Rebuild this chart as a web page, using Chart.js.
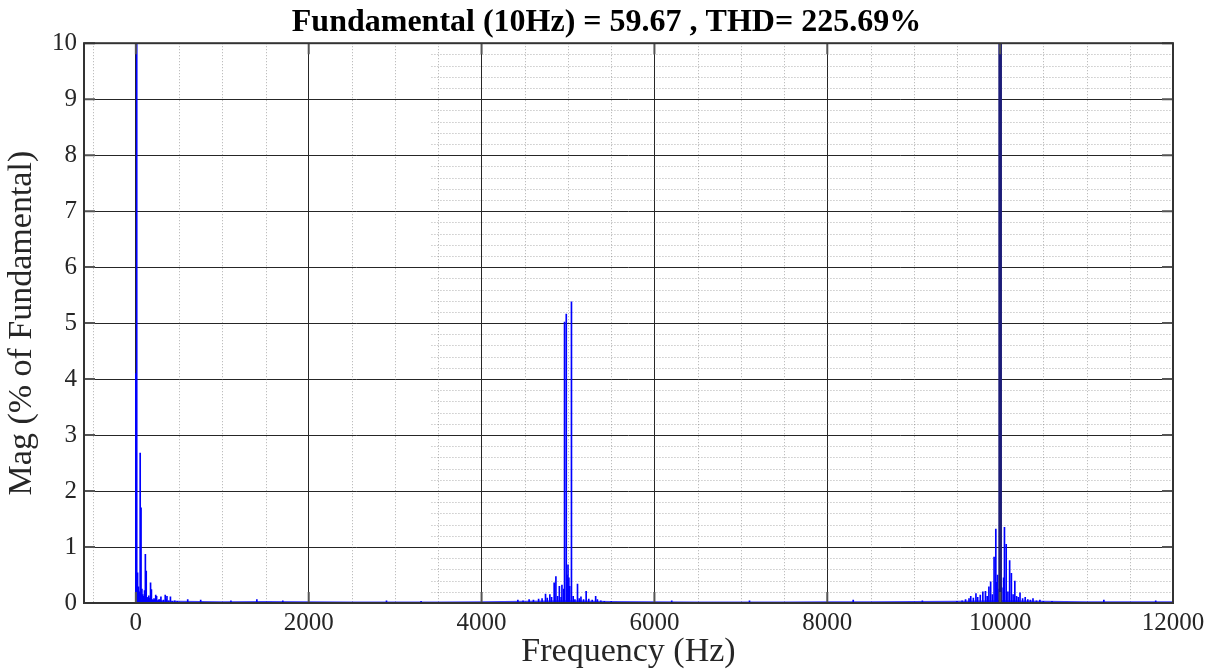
<!DOCTYPE html>
<html>
<head>
<meta charset="utf-8">
<script src="https://cdn.jsdelivr.net/npm/chart.js@4.4.0/dist/chart.umd.min.js"></script>
<style>
  html,body{margin:0;padding:0;background:#fff}
  #wrap{width:1213px;height:671px;position:relative}
</style>
</head>
<body>
<div id="wrap"><canvas id="fft"></canvas></div>
<script>
// FFT spectrum of the output voltage (bar plot, % of fundamental)

const titleText = 'Fundamental (10Hz) = 59.67 , THD= 225.69%';
const xLabel = 'Frequency (Hz)';
const yLabel = 'Mag (% of Fundamental)';

// axis ticks
const xTicks = [0, 2000, 4000, 6000, 8000, 10000, 12000];
const yTicks = [0, 1, 2, 3, 4, 5, 6, 7, 8, 9, 10];
const xMinorTicks = [-500, 500, 1000, 1500, 2500, 3000, 3500, 4500, 5000, 5500, 6500, 7000, 7500, 8500, 9000, 9500, 10500, 11000, 11500];
const yMinorSteps = [0.2, 0.4, 0.6, 0.8];
const yMinorFrom = 3420;   // Hz, horizontal minor grid only drawn from here on

// low-order harmonics around the fundamental
const lowFreqs = [0, 10, 20, 30, 40, 50, 60, 70, 80, 90, 100, 110, 120, 130, 140, 150, 160, 170, 180, 190, 200, 210, 220, 230, 240, 250, 260, 270, 280, 290, 300, 320, 340, 350, 360, 380, 400, 420, 450, 480];
const lowMags  = [4.1, 100, 0.54, 0.29, 0.2, 2.68, 1.7, 0.25, 0.15, 0.12, 0.22, 0.87, 0.57, 0.1, 0.08, 0.13, 0.09, 0.36, 0.24, 0.06, 0.05, 0.08, 0.06, 0.14, 0.12, 0.04, 0.05, 0.06, 0.05, 0.11, 0.04, 0.05, 0.14, 0.06, 0.12, 0.04, 0.11, 0.03, 0.04, 0.03];

// sidebands around 5 kHz
const midFreqs = [4420, 4480, 4550, 4600, 4660, 4700, 4740, 4760, 4790, 4810, 4840, 4860, 4880, 4900, 4920, 4930, 4950, 4960, 4980, 4990, 5000, 5010, 5020, 5040, 5060, 5080, 5110, 5130, 5150, 5180, 5210, 5240, 5280, 5320, 5340, 5380, 5420, 5500];
const midMags  = [0.05, 0.04, 0.06, 0.05, 0.07, 0.08, 0.16, 0.09, 0.15, 0.1, 0.36, 0.47, 0.12, 0.3, 0.1, 0.32, 0.25, 5.02, 5.16, 0.5, 0.68, 0.45, 0.3, 5.38, 0.12, 0.06, 0.34, 0.08, 0.11, 0.06, 0.21, 0.07, 0.05, 0.12, 0.06, 0.04, 0.03, 0.03];

// sidebands around the 10 kHz switching harmonic
const highFreqs = [9500, 9560, 9600, 9640, 9660, 9690, 9720, 9740, 9770, 9800, 9830, 9850, 9870, 9890, 9910, 9930, 9950, 9960, 9970, 9990, 10010, 10020, 10040, 10050, 10070, 10090, 10110, 10130, 10150, 10170, 10190, 10210, 10230, 10260, 10290, 10320, 10350, 10380, 10420, 10460, 10500, 10600];
const highMags  = [0.03, 0.04, 0.06, 0.08, 0.12, 0.09, 0.17, 0.1, 0.14, 0.2, 0.21, 0.12, 0.29, 0.38, 0.15, 0.82, 1.32, 0.37, 0.5, 0.25, 0.3, 0.27, 0.45, 1.35, 1.05, 0.2, 0.76, 0.53, 0.15, 0.39, 0.12, 0.1, 0.18, 0.08, 0.1, 0.06, 0.05, 0.08, 0.04, 0.05, 0.03, 0.03];

// the switching harmonic itself (off the top of the axes)
const carrierFreqs = [10000];
const carrierMags  = [220];

// isolated small lines elsewhere
const strayFreqs = [600, 750, 1100, 1400, 1700, 2900, 3300, 6200, 7100, 8300, 9100, 11200, 11800];
const strayMags  = [0.06, 0.05, 0.04, 0.06, 0.04, 0.04, 0.03, 0.04, 0.04, 0.05, 0.04, 0.05, 0.04];

// noise floor envelope
const floorFreqs = [0, 500, 1000, 1500, 2000, 2500, 3000, 3500, 4000, 4500, 5000, 5500, 6000, 6500, 7000, 7500, 8000, 8500, 9000, 9500, 10000, 10500, 11000, 11500, 12000];
const floorMags  = [0.05, 0.04, 0.03, 0.035, 0.03, 0.025, 0.025, 0.025, 0.03, 0.04, 0.05, 0.035, 0.03, 0.025, 0.025, 0.025, 0.03, 0.03, 0.035, 0.04, 0.05, 0.04, 0.03, 0.03, 0.03];

const FONT = "'Liberation Serif', 'Times New Roman', serif";
const INK = '#262626';

function toPoints(freqs, mags){
  return freqs.map((f, i) => ({x: f, y: mags[i]}));
}
const barPoints = [].concat(
  toPoints(lowFreqs, lowMags),
  toPoints(strayFreqs, strayMags),
  toPoints(midFreqs, midMags),
  toPoints(highFreqs, highMags)
);

// dotted minor grid, MATLAB style
const minorGrid = {
  id: 'minorGrid',
  beforeDatasetsDraw(chart){
    const {ctx, chartArea: a, scales: {x, y}} = chart;
    ctx.save();
    ctx.lineWidth = 1;
    ctx.setLineDash([1, 2]);
    ctx.strokeStyle = 'rgba(110,110,110,0.55)';
    xMinorTicks.forEach(v => {
      const px = Math.round(x.getPixelForValue(v)) + 0.5;
      ctx.beginPath(); ctx.moveTo(px, a.top); ctx.lineTo(px, a.bottom); ctx.stroke();
    });
    const x0 = x.getPixelForValue(yMinorFrom);
    yTicks.slice(0, -1).forEach(t => yMinorSteps.forEach(s => {
      const py = Math.round(y.getPixelForValue(t + s)) + 0.5;
      ctx.beginPath(); ctx.moveTo(x0, py); ctx.lineTo(a.right, py); ctx.stroke();
    }));
    ctx.restore();
  }
};

// box around the axes plus inward tick marks
const axesBox = {
  id: 'axesBox',
  afterDraw(chart){
    const {ctx, chartArea: a, scales: {x, y}} = chart;
    ctx.save();
    ctx.strokeStyle = '#555';
    ctx.lineWidth = 2;
    const len = 11;
    xTicks.forEach(v => {
      const px = x.getPixelForValue(v);
      ctx.beginPath();
      ctx.moveTo(px, a.bottom); ctx.lineTo(px, a.bottom - len);
      ctx.moveTo(px, a.top); ctx.lineTo(px, a.top + len);
      ctx.stroke();
    });
    yTicks.forEach(v => {
      const py = y.getPixelForValue(v);
      ctx.beginPath();
      ctx.moveTo(a.left, py); ctx.lineTo(a.left + len, py);
      ctx.moveTo(a.right, py); ctx.lineTo(a.right - len, py);
      ctx.stroke();
    });
    ctx.strokeStyle = '#333';
    ctx.lineWidth = 2;
    ctx.strokeRect(a.left, a.top, a.right - a.left, a.bottom - a.top);
    ctx.restore();
  }
};

new Chart(document.getElementById('fft'), {
  type: 'bar',
  data: {
    datasets: [
      {
        label: 'spectrum',
        data: barPoints,
        backgroundColor: '#0000ff',
        borderWidth: 0,
        barThickness: 1,
        grouped: false,
        order: 1
      },
      {
        label: 'carrier',
        data: toPoints(carrierFreqs, carrierMags),
        backgroundColor: '#1c1c78',
        borderWidth: 0,
        barThickness: 3,
        grouped: false,
        order: 0
      },
      {
        type: 'line',
        label: 'floor',
        data: toPoints(floorFreqs, floorMags),
        borderWidth: 0,
        pointRadius: 0,
        fill: 'origin',
        backgroundColor: 'rgba(0,0,255,0.75)',
        order: 2
      }
    ]
  },
  options: {
    responsive: true,
    maintainAspectRatio: false,
    animation: false,
    devicePixelRatio: 1,
    layout: {padding: 0},
    plugins: {
      legend: {display: false},
      tooltip: {enabled: false},
      title: {
        display: true,
        text: titleText,
        color: '#000',
        font: {family: FONT, size: 32, weight: 'bold', lineHeight: 1.1},
        padding: {top: 5, bottom: 3}
      }
    },
    scales: {
      x: {
        type: 'linear',
        min: -600,
        max: 12000,
        offset: false,
        afterBuildTicks: s => { s.ticks = xTicks.map(v => ({value: v})); },
        afterFit: s => { s.height = 68; },
        grid: {color: INK, lineWidth: 1, drawTicks: false, offset: false},
        border: {display: false},
        ticks: {color: INK, font: {family: FONT, size: 25}, padding: 5, maxRotation: 0, autoSkip: false,
                callback: v => String(v)},
        title: {display: true, text: xLabel, color: INK, font: {family: FONT, size: 34, lineHeight: 1}, padding: {top: 0, bottom: 2}}
      },
      y: {
        min: 0,
        max: 10,
        afterBuildTicks: s => { s.ticks = yTicks.map(v => ({value: v})); },
        afterFit: s => { s.width = 84; },
        grid: {color: INK, lineWidth: 1, drawTicks: false},
        border: {display: false},
        ticks: {color: INK, font: {family: FONT, size: 25}, padding: 7},
        title: {display: true, text: yLabel, color: INK, font: {family: FONT, size: 34, lineHeight: 1}, padding: {top: 5, bottom: 0}}
      },
      yRight: {
        position: 'right',
        display: true,
        afterFit: s => { s.width = 40; },
        grid: {display: false, drawTicks: false},
        border: {display: false},
        ticks: {display: false}
      }
    }
  },
  plugins: [minorGrid, axesBox]
});
</script>
</body>
</html>
